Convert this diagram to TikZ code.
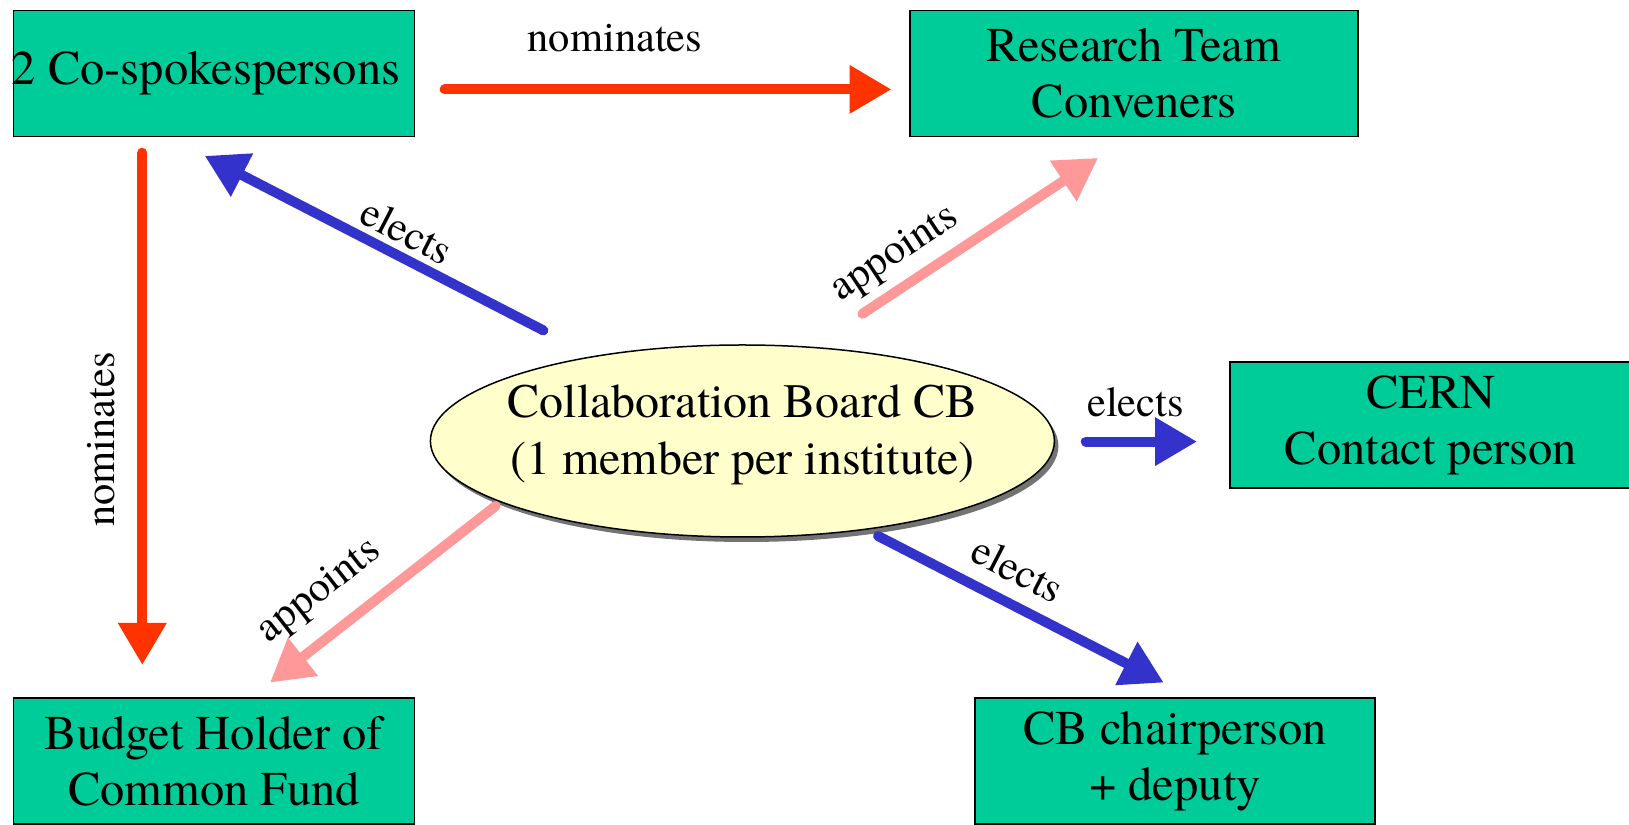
\documentclass[tikz,border=0pt]{standalone}
\usepackage{fontspec}
\setmainfont{texgyretermes-regular.otf}
\newfontfamily\tms{texgyretermes-regular.otf}
\usetikzlibrary{arrows.meta,shapes.geometric,shadows}
\definecolor{boxgreen}{RGB}{0,204,153}
\definecolor{nomred}{RGB}{255,51,0}
\definecolor{eleblue}{RGB}{51,51,204}
\definecolor{apppink}{RGB}{255,153,153}
\definecolor{cbyellow}{RGB}{255,255,204}
\tikzset{
  rolebox/.style={draw=black,line width=1.5pt,fill=boxgreen,minimum width=401pt,minimum height=126pt,inner sep=0pt,align=center,font=\tms\fontsize{48.5}{56}\selectfont},
  lbl/.style={font=\tms\fontsize{42.5}{50}\selectfont,inner sep=0pt},
  conn/.style={line width=10pt,line cap=round,-{Triangle[width=46pt,length=42pt]}},
  nomconn/.style={conn,draw=nomred},
  eleconn/.style={conn,draw=eleblue},
  appconn/.style={conn,draw=apppink}}
\begin{document}
\begin{tikzpicture}[x=1pt,y=1pt]
\useasboundingbox (0,0) rectangle (1629,824);
\fill[white] (0,0) rectangle (1629,824);

\node[rolebox] (cospk) at (214,750.6) {\makebox[360pt][c]{\hspace*{-16pt}2 Co-spokespersons}};
\node[rolebox,minimum width=448pt] (rtc) at (1134,750.6) {Research Team\\Conveners};
\node[rolebox,minimum width=402pt] (cern) at (1431,399) {CERN\\Contact person};
\node[rolebox] (budget) at (214,63) {Budget Holder of\\Common Fund};
\node[rolebox,minimum width=400pt] (chair) at (1175,63) {CB chairperson\\+ deputy};

\node[ellipse,draw=black,line width=1.5pt,fill=cbyellow,minimum width=624pt,minimum height=192pt,inner sep=0pt,
  drop shadow={shadow xshift=4pt,shadow yshift=-5pt,fill=black!55,opacity=1}] (cb) at (742.4,383) {};
\node[align=center,inner sep=0pt,font=\tms\fontsize{48}{57}\selectfont] (cbtext) at ([yshift=6pt]cb.center) {Collaboration Board CB\\(1 member per institute)};

\coordinate (n1s) at (444.7,734.6);
\coordinate (n1e) at (891.5,734.6);
\coordinate (n2s) at (142.3,671.3);
\coordinate (n2e) at (142.3,159);
\coordinate (e1s) at (543.4,493.6);
\coordinate (e1e) at (204.7,668.1);
\coordinate (a1s) at (862.4,510.2);
\coordinate (a1e) at (1098.2,666.1);
\coordinate (e2s) at (1085.8,382.4);
\coordinate (e2e) at (1197,382.4);
\coordinate (e3s) at (878,288);
\coordinate (e3e) at (1163.7,141.4);
\coordinate (a2s) at (495.6,318);
\coordinate (a2e) at (270,141.4);

\draw[nomconn] (n1s) -- (n1e);
\draw[nomconn] (n2s) -- (n2e);
\draw[eleconn] (e1s) -- (e1e);
\draw[appconn] (a1s) -- (a1e);
\draw[eleconn] (e2s) -- (e2e);
\draw[eleconn] (e3s) -- (e3e);
\draw[appconn] (a2s) -- (a2e);

\node[lbl] (lnom1) at (615,786) {nominates};
\node[lbl,rotate=90] (lnom2) at (100.8,384.5) {nominates};
\node[lbl,rotate=-27.3] (lele1) at (407,593) {elects};
\node[lbl,rotate=33.5] (lapp1) at (895.6,569.4) {appoints};
\node[lbl] (lele2) at (1135.6,422) {elects};
\node[lbl,rotate=-27.2] (lele3) at (1018,254.6) {elects};
\node[lbl,rotate=38] (lapp2) at (320,232) {appoints};
\end{tikzpicture}
\end{document}
